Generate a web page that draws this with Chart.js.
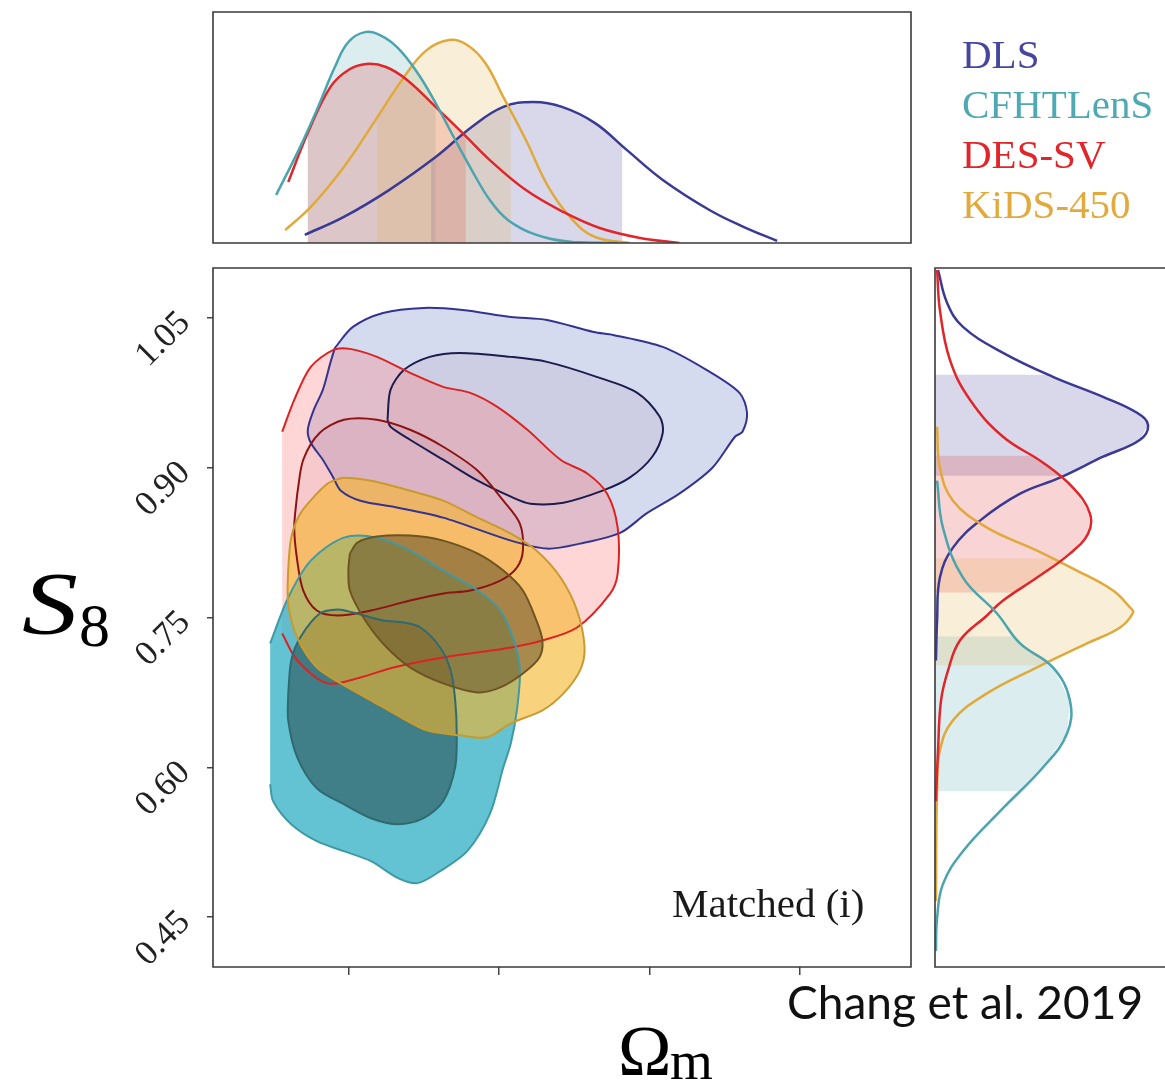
<!DOCTYPE html>
<html lang="en">
<head>
  <meta charset="UTF-8">
  <title>S8 vs Omega_m - Chang et al. 2019</title>
  <script src="https://cdn.jsdelivr.net/npm/chart.js"></script>
  <style>
    body {
      margin: 0;
      width: 1165px;
      height: 1081px;
      overflow: hidden;
      position: relative;
      background: #fff;
    }
    canvas, svg {
      position: absolute;
    }
  </style>
</head>
<body>
  <canvas id="mainChart" width="1165" height="1081" style="left:0;top:0"></canvas>
  <canvas id="topChart" width="1165" height="260" style="left:0;top:0"></canvas>
  <canvas id="rightChart" width="265" height="740" style="left:900px;top:250px"></canvas>

  <svg width="1165" height="1081" style="left:0;top:0">
    <g font-family="Liberation Serif" font-size="41">
      <text x="962" y="68" fill="#4646a0">DLS</text>
      <text x="962" y="118" fill="#4fa9b2">CFHTLenS</text>
      <text x="962" y="168" fill="#e0262a">DES-SV</text>
      <text x="962" y="218" fill="#e2aa3c">KiDS-450</text>
      <text x="672" y="917" fill="#1a1a1a">Matched (i)</text>
    </g>
    <text x="787" y="1019" font-family="Lato" font-size="46" fill="#111">Chang et al. 2019</text>
    <text x="22" y="633" font-family="Liberation Serif" font-style="italic" font-size="88" fill="#000" textLength="56" lengthAdjust="spacingAndGlyphs">S</text>
    <text x="79" y="646" font-family="Liberation Serif" font-size="62" fill="#000">8</text>
    <text x="618" y="1075" font-family="Liberation Serif" font-size="72" fill="#000">Ω</text>
    <text x="670" y="1079" font-family="Liberation Serif" font-size="55" fill="#000">m</text>
  </svg>

  <script>
    // axes
    const omegaRange = [0.11, 0.574];
    const s8Range = [0.40, 1.10];
    const omegaTicks = [0.2, 0.3, 0.4, 0.5];
    const s8Ticks = [0.45, 0.60, 0.75, 0.90, 1.05];

    const surveys = ['DLS', 'CFHTLenS', 'DES-SV', 'KiDS-450'];
    const lineColors = ['#3a3a94', '#4ba4ae', '#e0262a', '#e0a93a'];
    const shadeColors = ['rgba(60,60,150,0.2)', 'rgba(74,163,173,0.2)', 'rgba(224,38,42,0.2)', 'rgba(224,169,58,0.2)'];

    // 2D contours [Omega_m, S8], outer and inner levels
    const dlsOuter = [[0.191,1.020],[0.203,1.041],[0.223,1.055],[0.250,1.060],[0.276,1.058],[0.308,1.051],[0.332,1.048],[0.363,1.036],[0.376,1.033],[0.409,1.021],[0.438,0.998],[0.460,0.975],[0.465,0.955],[0.462,0.936],[0.457,0.931],[0.442,0.900],[0.420,0.874],[0.398,0.854],[0.381,0.835],[0.354,0.824],[0.332,0.819],[0.308,0.827],[0.263,0.850],[0.233,0.860],[0.208,0.867],[0.195,0.877],[0.190,0.890],[0.183,0.908],[0.175,0.925],[0.173,0.938],[0.177,0.958],[0.183,0.978],[0.188,1.005]];
    const dlsInner = [[0.226,0.948],[0.228,0.978],[0.237,0.998],[0.254,1.011],[0.274,1.015],[0.308,1.011],[0.332,1.006],[0.365,0.991],[0.392,0.975],[0.407,0.951],[0.409,0.935],[0.402,0.911],[0.387,0.890],[0.369,0.877],[0.343,0.865],[0.321,0.864],[0.308,0.871],[0.286,0.887],[0.263,0.908],[0.241,0.928],[0.228,0.941]];
    const desOuter = [[0.156,0.734],[0.166,0.707],[0.186,0.684],[0.208,0.690],[0.230,0.700],[0.263,0.710],[0.308,0.720],[0.329,0.727],[0.352,0.740],[0.374,0.774],[0.379,0.794],[0.379,0.840],[0.372,0.874],[0.359,0.894],[0.341,0.908],[0.319,0.938],[0.299,0.961],[0.281,0.975],[0.263,0.981],[0.241,0.995],[0.219,1.011],[0.201,1.019],[0.190,1.018],[0.175,1.001],[0.164,0.968],[0.156,0.936]];
    const desInner = [[0.166,0.874],[0.170,0.908],[0.181,0.935],[0.197,0.948],[0.219,0.948],[0.241,0.938],[0.263,0.921],[0.286,0.897],[0.303,0.867],[0.314,0.844],[0.316,0.817],[0.312,0.800],[0.301,0.787],[0.281,0.777],[0.263,0.774],[0.241,0.767],[0.215,0.757],[0.193,0.752],[0.179,0.757],[0.170,0.777],[0.166,0.807],[0.164,0.840]];
    const cfhtOuter = [[0.148,0.724],[0.160,0.770],[0.175,0.807],[0.197,0.830],[0.219,0.830],[0.241,0.817],[0.263,0.797],[0.286,0.777],[0.301,0.757],[0.310,0.727],[0.314,0.697],[0.312,0.657],[0.308,0.624],[0.303,0.600],[0.294,0.553],[0.279,0.516],[0.261,0.496],[0.246,0.484],[0.233,0.489],[0.215,0.506],[0.197,0.516],[0.179,0.526],[0.162,0.543],[0.150,0.566],[0.148,0.583]];
    const cfhtInner = [[0.160,0.674],[0.162,0.707],[0.168,0.730],[0.181,0.754],[0.193,0.758],[0.203,0.755],[0.223,0.747],[0.237,0.745],[0.248,0.740],[0.261,0.720],[0.268,0.697],[0.271,0.667],[0.272,0.634],[0.271,0.600],[0.263,0.566],[0.250,0.549],[0.233,0.543],[0.215,0.549],[0.197,0.563],[0.179,0.579],[0.166,0.610],[0.160,0.647]];
    const kidsOuter = [[0.190,0.887],[0.197,0.890],[0.215,0.887],[0.241,0.877],[0.263,0.867],[0.286,0.850],[0.308,0.834],[0.325,0.817],[0.341,0.790],[0.352,0.757],[0.357,0.720],[0.354,0.697],[0.343,0.674],[0.329,0.657],[0.308,0.644],[0.292,0.630],[0.274,0.632],[0.252,0.637],[0.235,0.650],[0.215,0.667],[0.195,0.684],[0.179,0.700],[0.166,0.730],[0.160,0.764],[0.160,0.797],[0.162,0.830],[0.168,0.854],[0.179,0.874],[0.186,0.884]];
    const kidsInner = [[0.201,0.814],[0.206,0.825],[0.219,0.831],[0.241,0.832],[0.263,0.827],[0.286,0.814],[0.303,0.797],[0.316,0.777],[0.325,0.747],[0.329,0.727],[0.327,0.710],[0.316,0.694],[0.301,0.680],[0.286,0.675],[0.263,0.684],[0.241,0.700],[0.223,0.724],[0.210,0.750],[0.201,0.777],[0.200,0.797]];

    // 1D marginals over Omega_m [Omega_m, density]
    const dlsOmega = [[0.171,0.035],[0.197,0.113],[0.227,0.229],[0.258,0.372],[0.282,0.502],[0.303,0.589],[0.323,0.610],[0.342,0.589],[0.364,0.519],[0.385,0.403],[0.409,0.273],[0.440,0.143],[0.463,0.069],[0.485,0.009]];
    const cfhtOmega = [[0.152,0.208],[0.167,0.403],[0.179,0.576],[0.191,0.762],[0.200,0.870],[0.211,0.913],[0.221,0.900],[0.233,0.844],[0.246,0.736],[0.258,0.606],[0.270,0.459],[0.282,0.316],[0.294,0.186],[0.306,0.100],[0.325,0.035],[0.349,0.004],[0.379,0.000]];
    const desOmega = [[0.160,0.264],[0.173,0.476],[0.188,0.675],[0.200,0.749],[0.212,0.775],[0.225,0.762],[0.239,0.706],[0.258,0.589],[0.276,0.476],[0.294,0.359],[0.318,0.229],[0.343,0.134],[0.367,0.065],[0.394,0.022],[0.420,0.000]];
    const kidsOmega = [[0.158,0.056],[0.175,0.156],[0.197,0.329],[0.218,0.532],[0.237,0.719],[0.252,0.835],[0.267,0.879],[0.279,0.857],[0.291,0.779],[0.303,0.632],[0.318,0.446],[0.333,0.242],[0.349,0.100],[0.364,0.026],[0.387,0.000]];
    const omegaIntervals = [[0.255, 0.382], [0.173, 0.258], [0.173, 0.278], [0.219, 0.308]];

    // 1D marginals over S8 [density, S8]
    const dlsS8 = [[0.013,1.098],[0.052,1.065],[0.120,1.041],[0.292,1.015],[0.506,0.991],[0.721,0.971],[0.867,0.955],[0.914,0.943],[0.880,0.928],[0.721,0.911],[0.536,0.890],[0.365,0.874],[0.193,0.847],[0.077,0.820],[0.021,0.790],[0.009,0.747],[0.004,0.707]];
    const cfhtS8 = [[0.009,0.887],[0.034,0.840],[0.120,0.790],[0.266,0.754],[0.365,0.724],[0.506,0.700],[0.579,0.667],[0.567,0.634],[0.464,0.600],[0.292,0.559],[0.120,0.516],[0.034,0.483],[0.009,0.449],[0.004,0.416]];
    const desS8 = [[0.009,1.098],[0.021,1.058],[0.064,1.008],[0.150,0.968],[0.292,0.931],[0.464,0.905],[0.592,0.880],[0.665,0.854],[0.657,0.834],[0.579,0.814],[0.438,0.790],[0.292,0.767],[0.223,0.752],[0.107,0.727],[0.056,0.697],[0.026,0.667],[0.013,0.617],[0.004,0.566]];
    const kidsS8 = [[0.009,0.941],[0.021,0.900],[0.077,0.867],[0.223,0.840],[0.438,0.817],[0.609,0.797],[0.764,0.777],[0.837,0.760],[0.850,0.755],[0.794,0.740],[0.652,0.724],[0.438,0.700],[0.223,0.674],[0.077,0.647],[0.021,0.617],[0.009,0.579],[0.004,0.466]];
    const s8Intervals = [[0.892, 0.993], [0.576, 0.731], [0.775, 0.912], [0.702, 0.809]];

    const toPts = arr => arr.map(p => ({x: p[0], y: p[1]}));
    const closed = arr => arr.concat([arr[0]]);

    function fillSet(arr, color, tension) {
      return { data: toPts(arr), showLine: true, fill: 'shape', backgroundColor: color,
               borderWidth: 0, borderColor: 'rgba(0,0,0,0)', pointRadius: 0, tension: tension };
    }
    function lineSet(arr, color, width, tension) {
      return { data: toPts(arr), showLine: true, fill: false, borderColor: color,
               borderWidth: width, pointRadius: 0, tension: tension };
    }

    function lerp(a, b, t) { return a + (b - a) * t; }

    // shaded 68% region under a marginal; key is the index of the parameter axis
    function band(curve, lo, hi, key) {
      const val = 1 - key;
      const at = v => {
        for (let i = 0; i < curve.length - 1; i++) {
          const a = curve[i][key], b = curve[i + 1][key];
          if ((v - a) * (v - b) <= 0) return lerp(curve[i][val], curve[i + 1][val], (v - a) / (b - a));
        }
        return 0;
      };
      const mk = (k, v) => key === 0 ? [k, v] : [v, k];
      const first = key === 0 ? lo : hi, last = key === 0 ? hi : lo;
      const inner = curve.filter(p => p[key] > lo && p[key] < hi);
      return [mk(first, 0), mk(first, at(first)), ...inner, mk(last, at(last)), mk(last, 0)];
    }

    const framePlugin = {
      id: 'frame',
      afterDatasetsDraw(chart, args, opts) {
        const {ctx, chartArea: a} = chart;
        ctx.save();
        ctx.strokeStyle = '#3a3a3a';
        ctx.lineWidth = 1.6;
        ctx.beginPath();
        if (opts.openRight) {
          ctx.moveTo(a.right + 5, a.top);
          ctx.lineTo(a.left, a.top);
          ctx.lineTo(a.left, a.bottom);
          ctx.lineTo(a.right + 5, a.bottom);
        } else {
          ctx.rect(a.left, a.top, a.right - a.left, a.bottom - a.top);
        }
        ctx.stroke();
        ctx.restore();
      }
    };

    function withOrder(sets) {
      // first in list is drawn first (bottom)
      return sets.map((d, i) => Object.assign(d, {order: sets.length - i}));
    }

    const baseOptions = {
      responsive: false,
      animation: false,
      events: [],
      plugins: { legend: { display: false }, tooltip: { enabled: false } }
    };

    // ---- main 2D panel
    const contourSets = [
      fillSet(closed(dlsOuter), 'rgba(150,165,215,0.4)', 0.3),
      fillSet(closed(dlsInner), 'rgba(190,175,200,0.3)', 0.3),
      fillSet(desOuter, 'rgba(255,120,120,0.3)', 0.3),
      fillSet(closed(desInner), 'rgba(190,110,130,0.12)', 0.3),
      fillSet(cfhtOuter, 'rgba(60,180,200,0.8)', 0.3),
      fillSet(closed(cfhtInner), 'rgba(30,60,60,0.5)', 0.3),
      fillSet(closed(kidsOuter), 'rgba(245,180,40,0.6)', 0.3),
      fillSet(closed(kidsInner), 'rgba(100,80,40,0.55)', 0.3),
      lineSet(closed(dlsOuter), '#34348f', 2, 0.3),
      lineSet(closed(dlsInner), '#1c1c4e', 2, 0.3),
      lineSet(desOuter, '#dd2222', 2, 0.3),
      lineSet(closed(desInner), '#8e1414', 2, 0.3),
      lineSet(cfhtOuter, '#3f9aa5', 2, 0.3),
      lineSet(closed(cfhtInner), '#2f6a70', 2, 0.3),
      lineSet(closed(kidsOuter), '#c99a2e', 2, 0.3),
      lineSet(closed(kidsInner), '#6e5520', 2, 0.3)
    ];

    new Chart(document.getElementById('mainChart'), {
      type: 'scatter',
      data: { datasets: withOrder(contourSets) },
      options: Object.assign({}, baseOptions, {
        layout: { padding: { left: 113, top: 268, right: 254, bottom: 94 } },
        plugins: Object.assign({}, baseOptions.plugins, { frame: {} }),
        scales: {
          x: {
            type: 'linear', min: omegaRange[0], max: omegaRange[1],
            afterBuildTicks: s => { s.ticks = omegaTicks.map(v => ({value: v})); },
            afterFit: s => { s.height = 20; },
            ticks: { display: false },
            border: { display: false },
            grid: { drawOnChartArea: false, drawTicks: true, tickLength: 8, color: '#444', lineWidth: 1.5 }
          },
          y: {
            type: 'linear', min: s8Range[0], max: s8Range[1],
            afterBuildTicks: s => { s.ticks = s8Ticks.map(v => ({value: v})); },
            afterFit: s => { s.width = 100; },
            ticks: {
              minRotation: 45, maxRotation: 45, padding: 22, color: '#222',
              font: { family: 'Liberation Serif', size: 35 },
              callback: v => v.toFixed(2)
            },
            border: { display: false },
            grid: { drawOnChartArea: false, drawTicks: true, tickLength: 6, color: '#444', lineWidth: 1.5 }
          }
        }
      }),
      plugins: [framePlugin]
    });

    // ---- top marginal (Omega_m)
    const omegaCurves = [dlsOmega, cfhtOmega, desOmega, kidsOmega];
    const topSets = omegaCurves.map((c, i) => fillSet(band(c, omegaIntervals[i][0], omegaIntervals[i][1], 0), shadeColors[i], 0))
      .concat([0, 3, 2, 1].map(i => lineSet(omegaCurves[i], lineColors[i], 2.5, 0.4)));

    new Chart(document.getElementById('topChart'), {
      type: 'scatter',
      data: { datasets: withOrder(topSets) },
      options: Object.assign({}, baseOptions, {
        layout: { padding: { left: 213, top: 12, right: 254, bottom: 17 } },
        plugins: Object.assign({}, baseOptions.plugins, { frame: {} }),
        scales: {
          x: { type: 'linear', display: false, min: omegaRange[0], max: omegaRange[1] },
          y: { type: 'linear', display: false, min: 0, max: 1 }
        }
      }),
      plugins: [framePlugin]
    });

    // ---- right marginal (S8)
    const s8Curves = [dlsS8, cfhtS8, desS8, kidsS8];
    const rightSets = s8Curves.map((c, i) => fillSet(band(c, s8Intervals[i][0], s8Intervals[i][1], 1), shadeColors[i], 0))
      .concat([0, 3, 2, 1].map(i => lineSet(s8Curves[i], lineColors[i], 2.5, 0.4)));

    new Chart(document.getElementById('rightChart'), {
      type: 'scatter',
      data: { datasets: withOrder(rightSets) },
      options: Object.assign({}, baseOptions, {
        layout: { padding: { left: 35, top: 18, right: 0, bottom: 23 } },
        plugins: Object.assign({}, baseOptions.plugins, { frame: { openRight: true } }),
        scales: {
          x: { type: 'linear', display: false, min: 0, max: 0.987 },
          y: { type: 'linear', display: false, min: s8Range[0], max: s8Range[1] }
        }
      }),
      plugins: [framePlugin]
    });
  </script>
</body>
</html>
